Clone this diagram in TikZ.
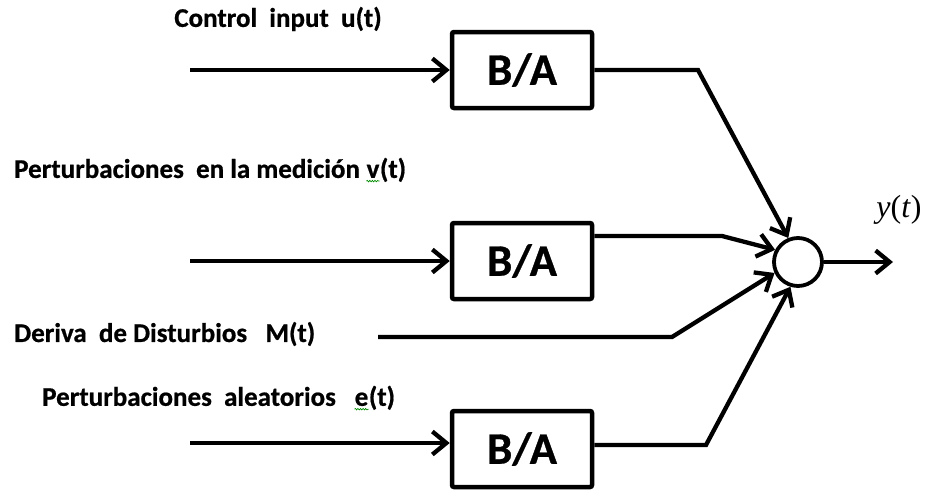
\documentclass[tikz,border=0pt]{standalone}
\usepackage{fontspec}
\setmainfont{Carlito}[BoldFeatures={FakeBold=0.7}]
\newfontfamily\timesfont{Liberation Serif}
\usetikzlibrary{arrows.meta,decorations.pathmorphing}

% letter with a green spell-check style wavy underline
\newcommand{\spellmark}[1]{\tikz[baseline=(w.base)]{%
  \node[inner sep=0pt, anchor=base, draw=none] (w) at (0,0) {#1};%
  \draw[green!55!black, line width=0.7pt, decorate,
    decoration={snake, amplitude=0.7pt, segment length=2.6pt}]
    ([yshift=-3pt]w.south west) -- ([yshift=-3pt]w.south east);}}

\begin{document}
\begin{tikzpicture}[x=1pt,y=-1pt,
  wire/.style={line width=4.3pt, line join=miter},
  tip/.style={-{Straight Barb[length=14pt,width=23pt,line width=4.3pt]}},
  blk/.style={draw, line width=4.5pt, rounded corners=2pt, minimum width=140pt,
    minimum height=76pt, inner sep=0pt, font=\fontsize{45}{50}\selectfont\bfseries},
  sumnode/.style={draw, circle, line width=3.8pt, minimum size=48pt, inner sep=0pt},
  lbl/.style={font=\fontsize{27}{31}\selectfont\bfseries, inner sep=0pt}]

  % frame of the picture
  \useasboundingbox (0,0) rectangle (930,493);

  % transfer blocks and summing junction
  \node[blk] (b1) at (522,70) {B/A};
  \node[blk] (b2) at (522,261) {B/A};
  \node[blk] (b3) at (522,449) {B/A};
  \node[sumnode] (s) at (798,262) {};

  % free ends of the inputs and output
  \coordinate (i1) at (190,70);
  \coordinate (i2) at (190,261);
  \coordinate (i3) at (190,443);
  \coordinate (im) at (378,337);
  \coordinate (o) at (893,262);

  % bends of the lines into the junction
  \coordinate (k1) at (698,70);
  \coordinate (k2) at (722,236);
  \coordinate (km) at (672,337);
  \coordinate (k3) at (706,445);

  % inputs
  \draw[wire,tip] (i1) -- (b1.west |- i1);
  \draw[wire,tip] (i2) -- (b2.west |- i2);
  \draw[wire,tip] (i3) -- (b3.west |- i3);

  % lines into the junction
  \draw[wire,tip] (b1.east |- k1) -- (k1) -- (s.112);
  \draw[wire,tip] (b2.east |- k2) -- (k2) -- (s.152);
  \draw[wire,tip] (im) -- (km) -- (s.205);
  \draw[wire,tip] (b3.east |- k3) -- (k3) -- (s.253);

  % output
  \draw[wire,tip] (s) -- (o);

  % labels
  \node[lbl] (l1) at (278,19) {Control\ \ input\ \ u(t)};
  \node[lbl, anchor=west] (l2) at (14,170) {Perturbaciones\ \ en la medición \spellmark{v}(t)};
  \node[lbl, anchor=west] (l3) at (14,334) {Deriva\ \ de Disturbios\ \ \ M(t)};
  \node[lbl, anchor=west] (l4) at (42,398) {Perturbaciones\ \ aleatorios\ \ \ \spellmark{e}(t)};
  \node[inner sep=0pt, font=\timesfont\fontsize{32}{36}\selectfont] (ly) at (899,210) {\textit{y}(\textit{t})};
\end{tikzpicture}
\end{document}
